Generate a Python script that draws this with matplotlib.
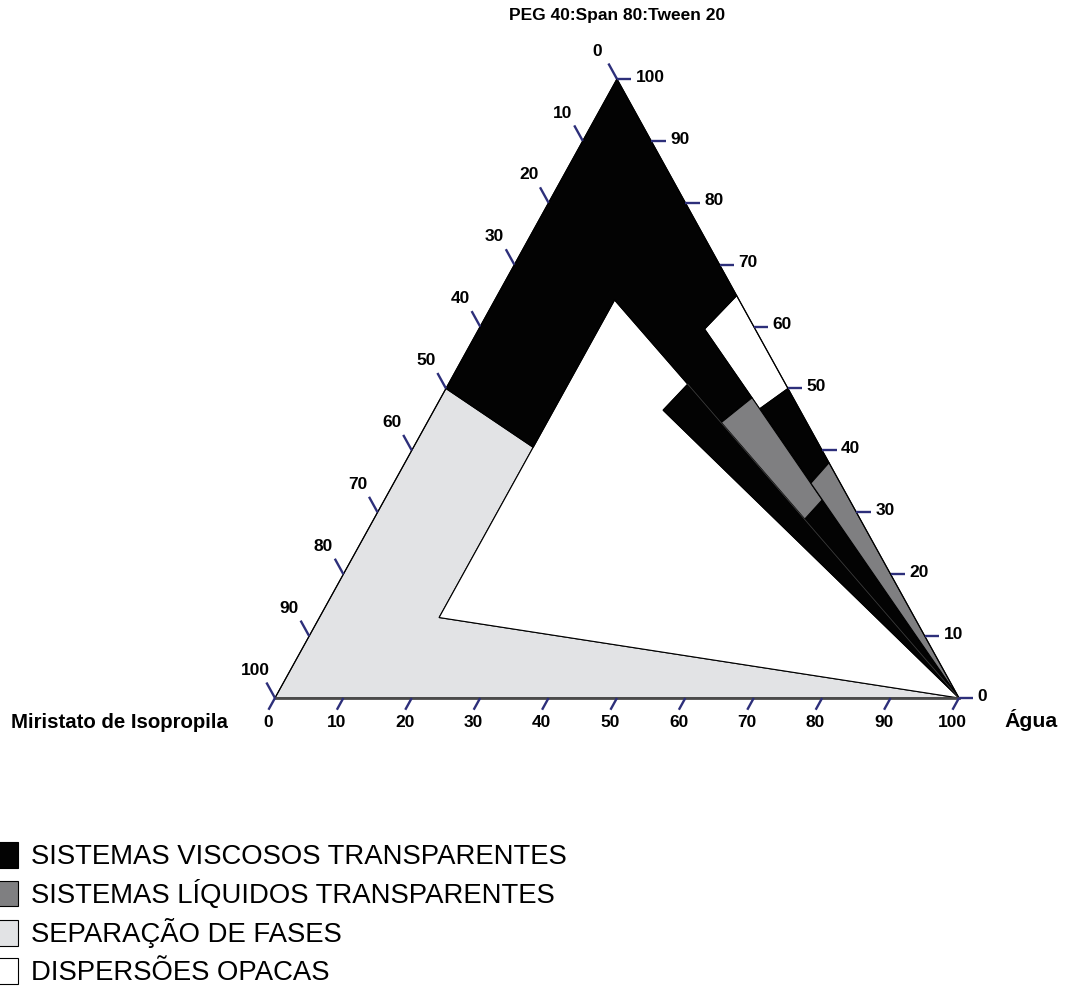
import numpy as np
import matplotlib.pyplot as plt
from matplotlib.patches import Polygon, Patch

plt.rcParams['font.family'] = ['Liberation Sans', 'DejaVu Sans']

# compositions (oil, water, surfactant) in %
separacao = [(100, 0, 0), (50, 0, 50), (42, 17.5, 40.5), (69.5, 17.5, 13), (0, 100, 0)]
opacas_centro = [(69.5, 17.5, 13), (0, 100, 0), (20.0, 33.5, 46.5), (14.3, 35, 50.7), (18.2, 17.5, 64.3)]
opacas_borda = [(0, 35, 65), (7.4, 33, 59.6), (5.8, 47.5, 46.7), (0, 50, 50)]
viscoso_principal = [(50, 0, 50), (0, 0, 100), (0, 35, 65), (7.4, 33, 59.6),
                     (6.0, 45.5, 48.5), (12.5, 43, 44.5), (18.2, 17.5, 64.3), (42, 17.5, 40.5)]
viscoso_faixa = [(20.0, 33.5, 46.5), (14.3, 35, 50.7), (0, 100, 0)]
viscoso_inferior = [(8.1, 63, 28.9), (4.0, 64, 32.0), (0, 100, 0)]
viscoso_borda = [(5.8, 47.5, 46.7), (0, 50, 50), (0, 62, 38), (4.3, 61, 34.7)]
liquido_centro = [(12.5, 43, 44.5), (6.0, 45.5, 48.5), (4.0, 64, 32.0), (8.1, 63, 28.9)]
liquido_borda = [(4.3, 61, 34.7), (0, 62, 38), (0, 100, 0)]
# dilution line separating the outer viscous strip
linha_diluicao = [(14.3, 35, 50.7), (0, 100, 0)]

ticks = np.arange(0, 101, 10)

c_visc = '#030303'
c_liq = '#7f7f81'
c_sep = '#e2e3e5'
c_tick = '#2d2f7a'


def proj(pts):
    # ternary -> cartesian: x = water + surf/2, y = surf
    pts = np.asarray(pts, dtype=float)
    return np.column_stack([pts[:, 1] + pts[:, 2] / 2, pts[:, 2]])


fig = plt.figure(figsize=(10.73, 9.94), dpi=100)
ax = fig.add_axes([0, 0, 1, 1])
ax.set_xlim(-40.2, 116.67)
ax.set_ylim(-47.82, 112.76)
ax.axis('off')

regions = [
    (separacao, c_sep),
    (opacas_centro, 'white'),
    (opacas_borda, 'white'),
    (viscoso_principal, c_visc),
    (viscoso_faixa, c_visc),
    (viscoso_inferior, c_visc),
    (viscoso_borda, c_visc),
    (liquido_centro, c_liq),
    (liquido_borda, c_liq),
]
for pts, col in regions:
    ax.add_patch(Polygon(proj(pts), closed=True, facecolor=col,
                         edgecolor='black', linewidth=0.8, joinstyle='miter'))

ld = proj(linha_diluicao)
ax.plot(ld[:, 0], ld[:, 1], color='#3c3c3c', lw=0.6)

# triangle frame
corners = proj([(100, 0, 0), (0, 100, 0), (0, 0, 100)])
ax.plot([corners[0, 0], corners[2, 0], corners[1, 0]],
        [corners[0, 1], corners[2, 1], corners[1, 1]], color='black', lw=0.8)
ax.plot(corners[:2, 0], corners[:2, 1], color='#4a4a4a', lw=2.0)

# ticks and labels
fs_tick = 12.5
for v in ticks:
    # bottom: water
    ax.plot([v, v - 0.95], [0, -1.9], color=c_tick, lw=1.7, solid_capstyle='butt')
    ax.text(v - 1.0, -3.9, str(v), ha='center', va='center', fontsize=fs_tick, fontweight='bold')
    # left: oil
    x0, y0 = (100 - v) / 2, 100 - v
    ax.plot([x0, x0 - 1.25], [y0, y0 + 2.5], color=c_tick, lw=1.7, solid_capstyle='butt')
    ax.text(x0 - 2.9, y0 + 4.5, str(v), ha='center', va='center', fontsize=fs_tick, fontweight='bold')
    # right: surfactant
    x0, y0 = 100 - v / 2, v
    ax.plot([x0, x0 + 2.1], [y0, y0], color=c_tick, lw=1.7, solid_capstyle='butt')
    ax.text(x0 + 2.75, y0 + 0.3, str(v), ha='left', va='center', fontsize=fs_tick, fontweight='bold')

ax.text(50, 110.2, 'PEG 40:Span 80:Tween 20', ha='center', va='center', fontsize=12.5,
        fontweight='bold')
ax.text(-6.9, -3.9, 'Miristato de Isopropila', ha='right', va='center', fontsize=14.7,
        fontweight='bold')
ax.text(106.7, -3.6, 'Água', ha='left', va='center', fontsize=15.3, fontweight='bold')

handles = [Patch(facecolor=c, edgecolor='black', linewidth=0.8) for c in (c_visc, c_liq, c_sep, 'white')]
labels = ['SISTEMAS VISCOSOS TRANSPARENTES', 'SISTEMAS LÍQUIDOS TRANSPARENTES',
          'SEPARAÇÃO DE FASES', 'DISPERSÕES OPACAS']
fig.legend(handles, labels, loc='upper left', bbox_to_anchor=(-0.006, 1 - 842 / 994),
           frameon=False, fontsize=19.8, handlelength=0.9, handleheight=1.05,
           handletextpad=0.45, labelspacing=0.35, borderpad=0, borderaxespad=0)

fig.savefig('out.png', dpi=100)
